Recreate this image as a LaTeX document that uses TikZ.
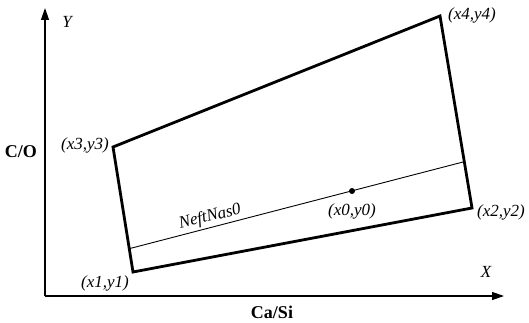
\documentclass[tikz,border=0pt]{standalone}
\usepackage{fontspec}
\setmainfont{Liberation Serif}[ItalicFont={Liberation Serif Italic},BoldFont={Liberation Serif Bold}]
\usetikzlibrary{arrows.meta}
\begin{document}
\begin{tikzpicture}[x=1pt,y=-1pt,
  axis/.style={line width=1.3pt,-{Triangle[length=12pt,width=8pt]}},
  quad/.style={line width=2.8pt,line join=miter},
  thinline/.style={line width=0.9pt},
  lbl/.style={font=\fontsize{17}{19}\selectfont\itshape,inner sep=0pt},
  blbl/.style={font=\fontsize{18}{20}\selectfont\bfseries,inner sep=0pt}]
\useasboundingbox (0,0) rectangle (529,323);
\coordinate (O) at (45,296);
\coordinate (Xend) at (504,296);
\coordinate (Yend) at (45,8);
\draw[axis] (O) -- (Xend);
\draw[axis] (O) -- (Yend);
\coordinate (p1) at (133,272);
\coordinate (p2) at (472,208);
\coordinate (p4) at (440,16);
\coordinate (p3) at (113,147);
\draw[quad] (p1) -- (p2) -- (p4) -- (p3) -- cycle;
\coordinate (la) at (128,249);
\coordinate (lb) at (463,162);
\draw[thinline] (la) -- (lb);
\coordinate (p0) at (352,191);
\fill (p0) circle (3pt);
\node[lbl] (ly) at (67,22) {Y};
\node[lbl] (lx) at (486,272) {X};
\node[blbl] (lco) at (21,152) {C/O};
\node[blbl] (lcasi) at (272,312) {Ca/Si};
\node[lbl] (l1) at (105,283) {(x1,y1)};
\node[lbl] (l2) at (501,212) {(x2,y2)};
\node[lbl] (l3) at (85,145) {(x3,y3)};
\node[lbl] (l4) at (472,15) {(x4,y4)};
\node[lbl] (l0) at (352,211) {(x0,y0)};
\node[lbl,rotate=14] (ln) at (210,217) {NeftNas0};
\end{tikzpicture}
\end{document}
